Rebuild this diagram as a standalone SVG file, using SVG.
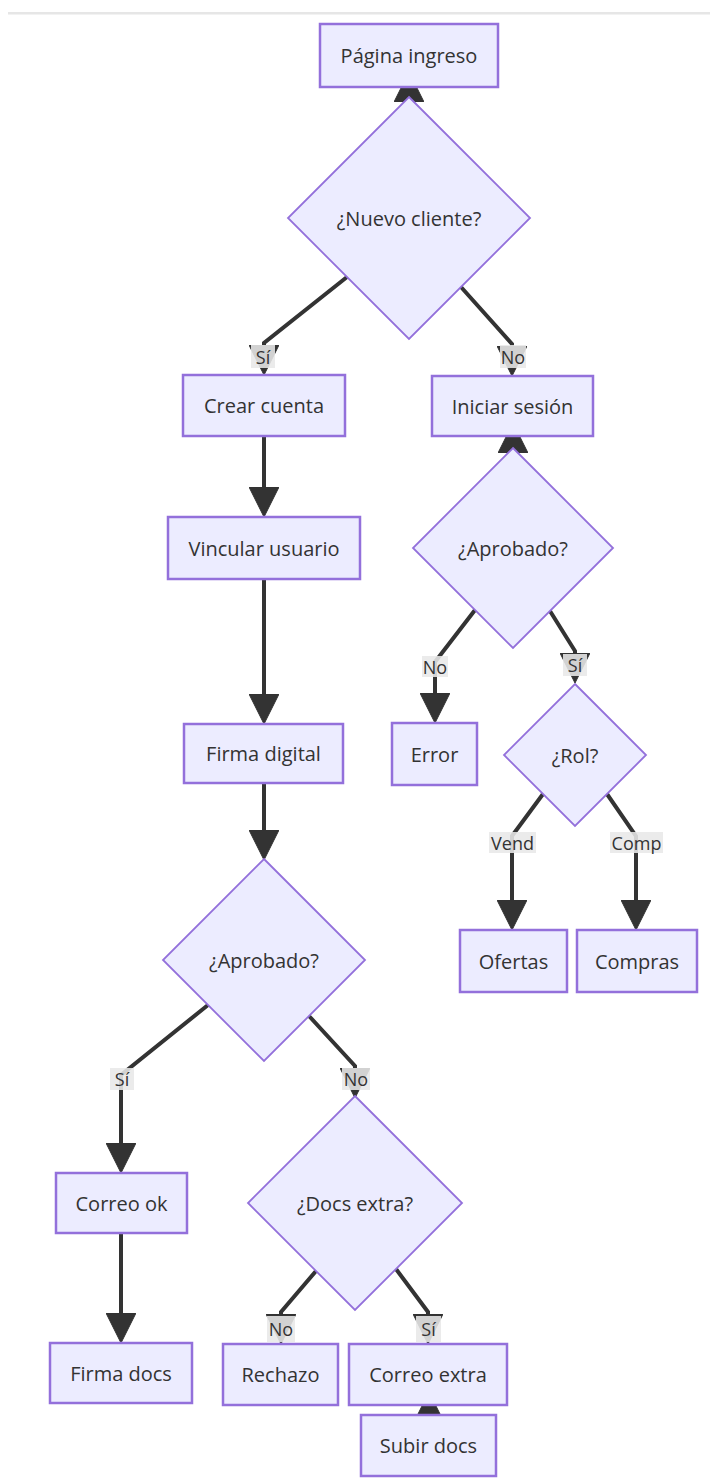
<svg xmlns="http://www.w3.org/2000/svg" width="710" height="1481" viewBox="0 0 710 1481">
  <style>
    .node rect, .node polygon { fill: #ECECFF; stroke: #9370DB; }
    .node rect { stroke-width: 2.5; }
    .node polygon { stroke-width: 1.8; }
    .node text, .elabel text { font-family: "Open Sans", "Liberation Sans", sans-serif; fill: #333333; text-anchor: middle; dominant-baseline: central; }
    .node text { font-size: 20px; }
    .elabel text { font-size: 18px; }
    .edge { fill: none; stroke: #333333; stroke-width: 4; }
    .elabel rect { fill: #e8e8e8; fill-opacity: 0.88; }
  </style>
  <defs>
    <marker id="arrow" markerUnits="userSpaceOnUse" viewBox="0 0 30 30" refX="0" refY="15" markerWidth="30" markerHeight="30" orient="auto">
      <path d="M0,0 L30,15 L0,30 z" fill="#333333" stroke="#333333" stroke-width="1" stroke-linejoin="round"/>
    </marker>
  </defs>

  <rect x="8" y="12" width="702" height="2.5" fill="#e6e6e6"/>

  <!-- connectors -->
  <g id="connectors">
    <path class="edge" d="M409,112 L409,102" marker-end="url(#arrow)"/>
    <path class="edge" d="M347,277 L264,343 L264,345" marker-end="url(#arrow)"/>
    <path class="edge" d="M461,287 L512,344 L512,346" marker-end="url(#arrow)"/>
    <path class="edge" d="M264,436 L264,487" marker-end="url(#arrow)"/>
    <path class="edge" d="M264,579 L264,694" marker-end="url(#arrow)"/>
    <path class="edge" d="M264,783 L264,830" marker-end="url(#arrow)"/>
    <path class="edge" d="M513,463 L513,453" marker-end="url(#arrow)"/>
    <path class="edge" d="M475,610 L435,662 L435,693" marker-end="url(#arrow)"/>
    <path class="edge" d="M550,611 L575,651 L575,653" marker-end="url(#arrow)"/>
    <path class="edge" d="M543,794 L512,836 L512,900" marker-end="url(#arrow)"/>
    <path class="edge" d="M607,794 L636,836 L636,900" marker-end="url(#arrow)"/>
    <path class="edge" d="M208,1005 L121,1075 L121,1143" marker-end="url(#arrow)"/>
    <path class="edge" d="M309,1016 L355,1066 L355,1068" marker-end="url(#arrow)"/>
    <path class="edge" d="M121,1233 L121,1313" marker-end="url(#arrow)"/>
    <path class="edge" d="M316,1271 L281,1312 L281,1314" marker-end="url(#arrow)"/>
    <path class="edge" d="M396,1269 L428,1312 L428,1314" marker-end="url(#arrow)"/>
    <path class="edge" d="M429,1430 L429,1422" marker-end="url(#arrow)"/>
  </g>

  <!-- nodes -->
  <g id="pagina-ingreso" class="node">
    <rect x="320" y="24" width="178" height="63"/>
    <text x="409" y="55.5">Página ingreso</text>
  </g>
  <g id="nuevo-cliente" class="node">
    <polygon points="409,97 530,218 409,339 288,218"/>
    <text x="409" y="218">¿Nuevo cliente?</text>
  </g>
  <g id="crear-cuenta" class="node">
    <rect x="183" y="375" width="162" height="61"/>
    <text x="264" y="405.5">Crear cuenta</text>
  </g>
  <g id="iniciar-sesion" class="node">
    <rect x="432" y="376" width="161" height="60"/>
    <text x="512.5" y="406">Iniciar sesión</text>
  </g>
  <g id="vincular-usuario" class="node">
    <rect x="168" y="517" width="192" height="62"/>
    <text x="264" y="548">Vincular usuario</text>
  </g>
  <g id="firma-digital" class="node">
    <rect x="184" y="724" width="159" height="59"/>
    <text x="263.5" y="753.5">Firma digital</text>
  </g>
  <g id="aprobado-registro" class="node">
    <polygon points="264,859 365,960 264,1061 163,960"/>
    <text x="264" y="960">¿Aprobado?</text>
  </g>
  <g id="aprobado-sesion" class="node">
    <polygon points="513,448 613,548 513,648 413,548"/>
    <text x="513" y="548">¿Aprobado?</text>
  </g>
  <g id="error" class="node">
    <rect x="392" y="723" width="85" height="62"/>
    <text x="434.5" y="754">Error</text>
  </g>
  <g id="rol" class="node">
    <polygon points="575,684 646,755 575,826 504,755"/>
    <text x="575" y="755">¿Rol?</text>
  </g>
  <g id="ofertas" class="node">
    <rect x="460" y="930" width="107" height="62"/>
    <text x="513.5" y="961">Ofertas</text>
  </g>
  <g id="compras" class="node">
    <rect x="577" y="930" width="120" height="62"/>
    <text x="637" y="961">Compras</text>
  </g>
  <g id="correo-ok" class="node">
    <rect x="56" y="1173" width="131" height="60"/>
    <text x="121.5" y="1203">Correo ok</text>
  </g>
  <g id="docs-extra" class="node">
    <polygon points="355,1096 462,1203 355,1310 248,1203"/>
    <text x="355" y="1203">¿Docs extra?</text>
  </g>
  <g id="firma-docs" class="node">
    <rect x="50" y="1343" width="142" height="60"/>
    <text x="121" y="1373">Firma docs</text>
  </g>
  <g id="rechazo" class="node">
    <rect x="223" y="1344" width="115" height="61"/>
    <text x="280.5" y="1374.5">Rechazo</text>
  </g>
  <g id="correo-extra" class="node">
    <rect x="349" y="1344" width="158" height="61"/>
    <text x="428" y="1374.5">Correo extra</text>
  </g>
  <g id="subir-docs" class="node">
    <rect x="361" y="1415" width="135" height="61"/>
    <text x="428.5" y="1445.5">Subir docs</text>
  </g>

  <!-- edge labels -->
  <g id="edge-labels">
    <g class="elabel"><rect x="251" y="345" width="24" height="23"/><text x="263" y="356.5">Sí</text></g>
    <g class="elabel"><rect x="500" y="345" width="26" height="23"/><text x="513" y="356.5">No</text></g>
    <g class="elabel"><rect x="422" y="656" width="26" height="21"/><text x="435" y="666.5">No</text></g>
    <g class="elabel"><rect x="563" y="654" width="24" height="22"/><text x="575" y="665">Sí</text></g>
    <g class="elabel"><rect x="489" y="832" width="47" height="21"/><text x="512.5" y="842.5">Vend</text></g>
    <g class="elabel"><rect x="610" y="832" width="53" height="21"/><text x="636.5" y="842.5">Comp</text></g>
    <g class="elabel"><rect x="110" y="1068" width="24" height="22"/><text x="122" y="1079">Sí</text></g>
    <g class="elabel"><rect x="342" y="1068" width="28" height="22"/><text x="356" y="1079">No</text></g>
    <g class="elabel"><rect x="267" y="1316" width="28" height="26"/><text x="281" y="1329">No</text></g>
    <g class="elabel"><rect x="416" y="1316" width="25" height="26"/><text x="428.5" y="1329">Sí</text></g>
  </g>
</svg>
